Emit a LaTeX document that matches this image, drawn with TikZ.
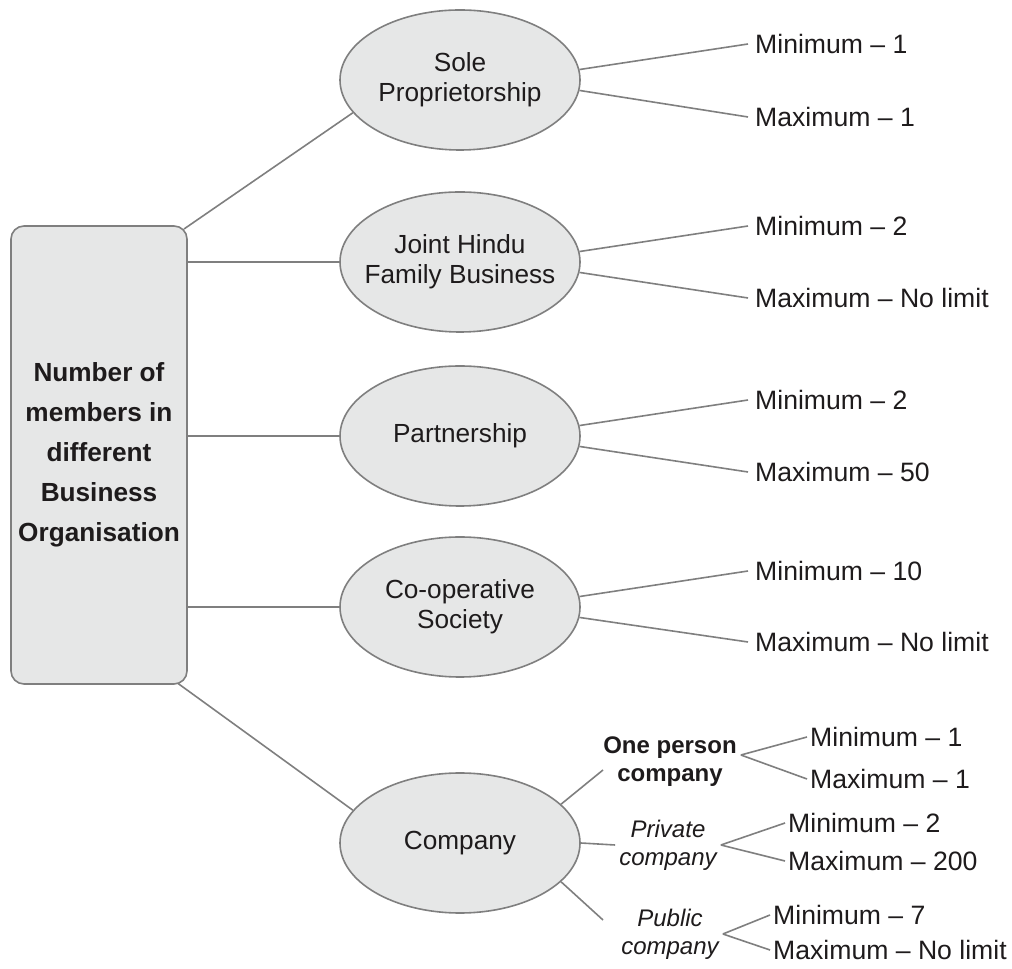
\documentclass[tikz,border=0pt]{standalone}
\usepackage{fontspec}
\setmainfont{Liberation Sans}
\usetikzlibrary{shapes.geometric,calc}
\definecolor{boxfill}{HTML}{E6E7E7}
\definecolor{edge}{HTML}{7F7F7F}
\definecolor{ink}{HTML}{1E1B1C}
\begin{document}
\begin{tikzpicture}[x=1pt,y=1pt,
  every node/.style={text=ink},
  hub/.style={draw=edge,fill=boxfill,line width=1.6pt,rounded corners=13pt,
    minimum width=176pt,minimum height=458pt,align=center,
    font=\fontsize{26.2}{40}\selectfont\bfseries},
  org/.style={ellipse,draw=edge,fill=boxfill,line width=1.6pt,
    minimum width=240pt,minimum height=140pt,inner xsep=-40pt,inner ysep=0pt,
    align=center,font=\fontsize{26.2}{30}\selectfont},
  val/.style={anchor=west,inner xsep=7pt,inner ysep=0pt,font=\fontsize{26.6}{30}\selectfont},
  subval/.style={val,inner xsep=3pt},
  kind/.style={align=center,inner xsep=4pt,inner ysep=0pt,font=\fontsize{24}{28}\selectfont},
  kindbold/.style={kind,font=\fontsize{24}{28}\selectfont\bfseries},
  kindital/.style={kind,font=\fontsize{24}{28}\selectfont\itshape},
  link/.style={draw=edge,line width=1.6pt}
]
\useasboundingbox (0,0) rectangle (1012,969);

% central box and the five forms of organisation
\node[hub] (hub) at (99,514) {Number of\\members in\\different\\Business\\Organisation};
\node[org] (sole) at (460,889) {Sole\\Proprietorship};
\node[org] (jhf)  at (460,707) {Joint Hindu\\Family Business};
\node[org] (part) at (460,533) {Partnership};
\node[org] (coop) at (460,362) {Co-operative\\Society};
\node[org] (comp) at (460,126) {Company};

% member limits
\node[val] (soleMin) at (748,925) {Minimum – 1};
\node[val] (soleMax) at (748,852) {Maximum – 1};
\node[val] (jhfMin)  at (748,743) {Minimum – 2};
\node[val] (jhfMax)  at (748,671) {Maximum – No limit};
\node[val] (partMin) at (748,569) {Minimum – 2};
\node[val] (partMax) at (748,497) {Maximum – 50};
\node[val] (coopMin) at (748,398) {Minimum – 10};
\node[val] (coopMax) at (748,327) {Maximum – No limit};

% kinds of company
\node[kindbold] (opc)  at (670,207) {One person\\company};
\node[kindital] (priv) at (668,124) {Private\\company};
\node[kindital] (pub)  at (670,35)  {Public\\company};

\node[subval] (opcMin)  at (807,232) {Minimum – 1};
\node[subval] (opcMax)  at (807,190) {Maximum – 1};
\node[subval] (privMin) at (785,146) {Minimum – 2};
\node[subval] (privMax) at (785,108) {Maximum – 200};
\node[subval] (pubMin)  at (770,54)  {Minimum – 7};
\node[subval] (pubMax)  at (770,19)  {Maximum – No limit};

% connection points
\coordinate (hubNE)  at ($(hub.north east)+(-3.8,-3.8)$);
\coordinate (hubSE)  at ($(hub.south east)+(-10,1.5)$);
\coordinate (opcIn)  at (603,199);
\coordinate (opcOut) at ($(opc.east)+(0,7)$);
\coordinate (pubIn)  at (603,49);

% connectors from the central box
\draw[link] (hubNE) -- (sole.197);
\draw[link] (hub.east |- jhf.west) -- (jhf.west);
\draw[link] (hub.east |- part.west) -- (part.west);
\draw[link] (hub.east |- coop.west) -- (coop.west);
\draw[link] (hubSE) -- (comp.163);

% connectors to the limits
\draw[link] (sole.5) -- (soleMin.west);
\draw[link] (sole.-5) -- (soleMax.west);
\draw[link] (jhf.5) -- (jhfMin.west);
\draw[link] (jhf.-5) -- (jhfMax.west);
\draw[link] (part.5) -- (partMin.west);
\draw[link] (part.-5) -- (partMax.west);
\draw[link] (coop.5) -- (coopMin.west);
\draw[link] (coop.-5) -- (coopMax.west);

% company branches
\draw[link] (comp.21) -- (opcIn);
\draw[link] (comp.0) -- (priv.west);
\draw[link] (comp.-21) -- (pubIn);
\draw[link] (opcOut) -- (opcMin.west);
\draw[link] (opcOut) -- (opcMax.west);
\draw[link] (priv.east) -- (privMin.west);
\draw[link] (priv.east) -- (privMax.west);
\draw[link] (pub.east) -- (pubMin.west);
\draw[link] (pub.east) -- (pubMax.west);
\end{tikzpicture}
\end{document}
